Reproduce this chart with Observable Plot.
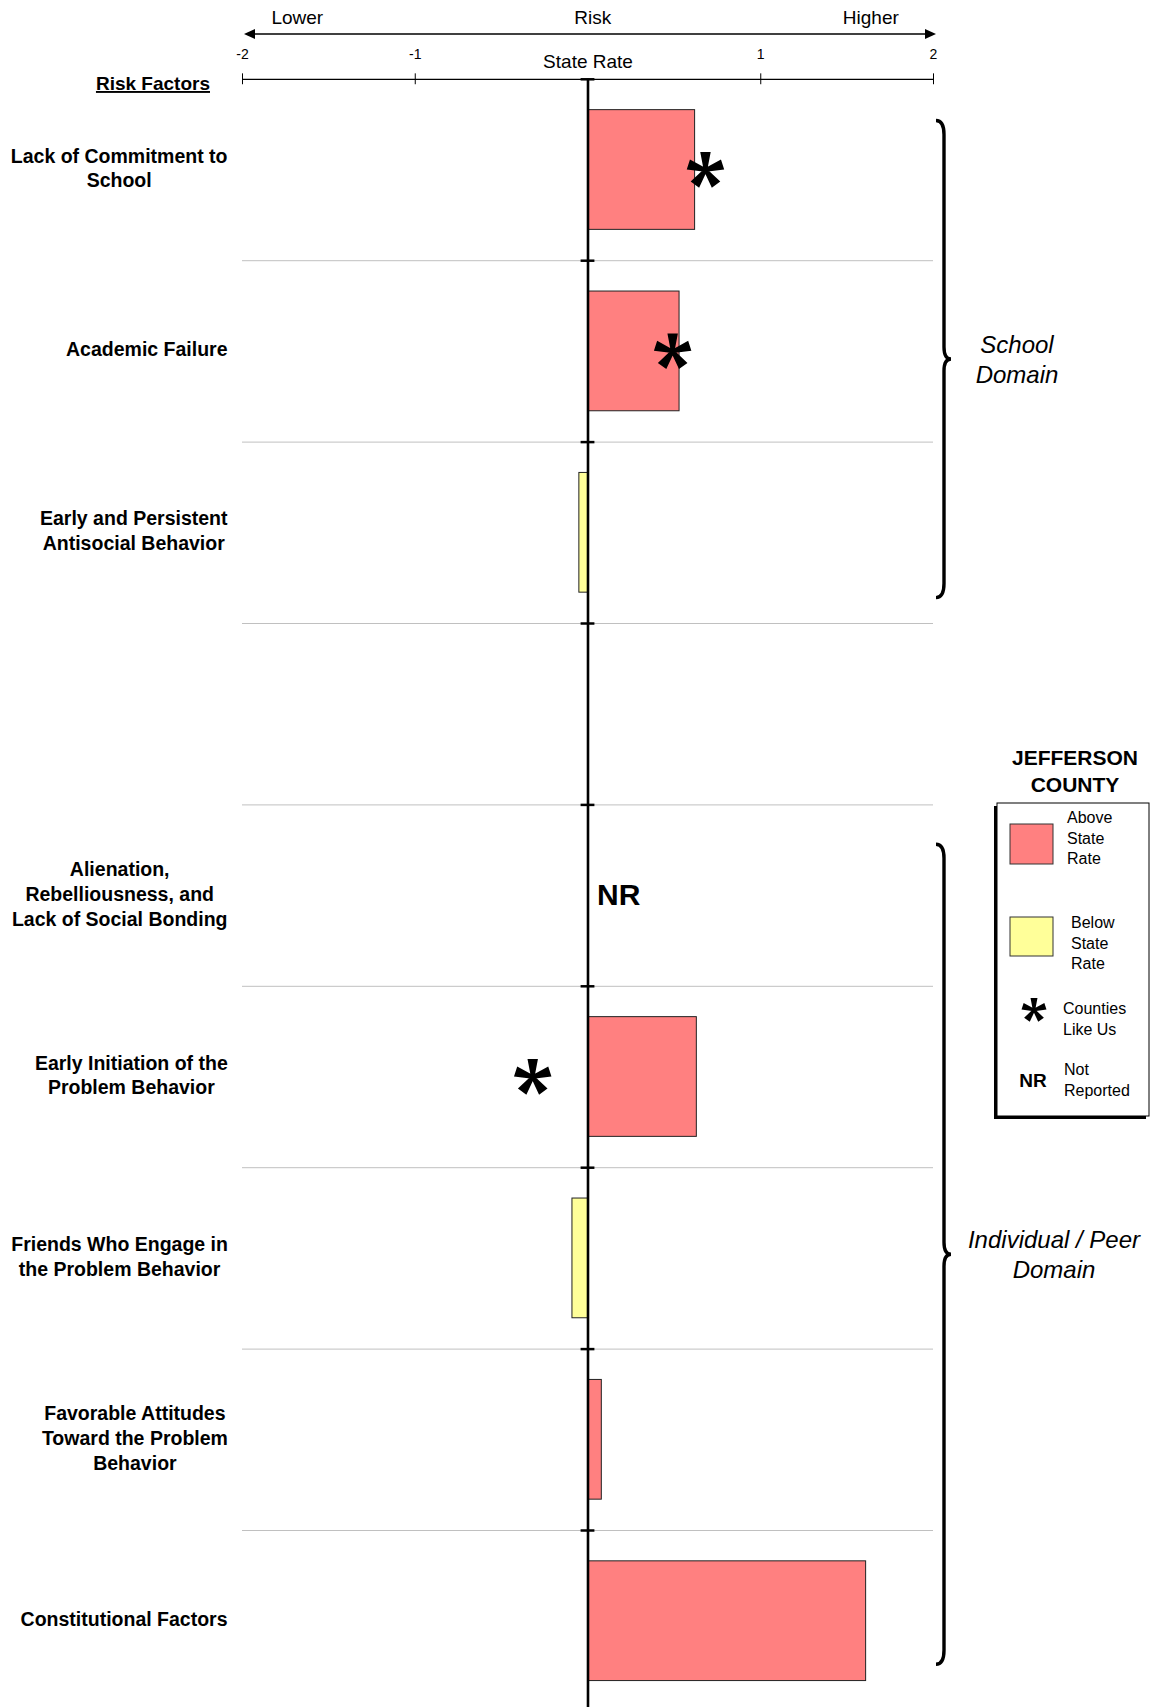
<!DOCTYPE html>
<html><head><meta charset="utf-8">
<script src="https://cdn.jsdelivr.net/npm/d3@7"></script>
<script src="https://cdn.jsdelivr.net/npm/@observablehq/plot@0.6"></script>
<style>
body{margin:0;background:#fff;}
#chart{position:relative;width:1153px;height:1707px;overflow:hidden;background:#fff;}
</style></head><body><div id="chart"></div>
<script>
// ---------- data ----------
const factors = [
  "Lack of Commitment to\nSchool",
  "Academic Failure",
  "Early and Persistent\nAntisocial Behavior",
  "",
  "Alienation,\nRebelliousness, and\nLack of Social Bonding",
  "Early Initiation of the\nProblem Behavior",
  "Friends Who Engage in\nthe Problem Behavior",
  "Favorable Attitudes\nToward the Problem\nBehavior",
  "Constitutional Factors"
];
const countyValues   = [0.62, 0.53, -0.05, null, null, 0.63, -0.09, 0.08, 1.61];
const countiesLikeUs = [0.68, 0.49, null, null, null, -0.32, null, null, null];
const notReported    = [false, false, false, false, true, false, false, false, false];
const xTicks = [-2, -1, 1, 2];
const xTickLabels = ["-2", "-1", "1", "2"];
const headerWords = ["Lower", "Risk", "Higher"];
const headerAt = [-1.68, 0.03, 1.64];
const domainNames = ["School\nDomain", "Individual / Peer\nDomain"];
const legendTitle = "JEFFERSON\nCOUNTY";
const legendItems = ["Above\nState\nRate", "Below\nState\nRate", "Counties\nLike Us", "Not\nReported"];

// ---------- layout ----------
const font = "'Liberation Sans', Arial, Helvetica, sans-serif";
const rowTop = 78.8, rowH = 181.4;
const braceLayout = [{from: 0.23, to: 2.86, labelX: 1017}, {from: 4.22, to: 8.74, labelX: 1054}];

const rows = factors.map((label, i) => ({i, label, value: countyValues[i], like: countiesLikeUs[i], nr: notReported[i]}));

// five-armed asterisk symbol
const asterisk = {
  draw(ctx, size) {
    const r = Math.sqrt(size / Math.PI), w0 = 0.1 * r, w1 = 0.29 * r;
    for (let k = 0; k < 5; k++) {
      const a = k * 2 * Math.PI / 5;
      const ux = Math.sin(a), uy = -Math.cos(a), px = Math.cos(a), py = Math.sin(a);
      ctx.moveTo(w0 * px, w0 * py);
      ctx.lineTo(r * ux + w1 * px, r * uy + w1 * py);
      ctx.lineTo(r * ux - w1 * px, r * uy - w1 * py);
      ctx.lineTo(-w0 * px, -w0 * py);
      ctx.closePath();
    }
  }
};

const chart = Plot.plot({
  width: 1153, height: 1707,
  marginLeft: 242, marginRight: 220, marginTop: 79, marginBottom: 0,
  style: {fontFamily: font, background: "white", color: "black"},
  x: {domain: [-2, 2]},
  y: {domain: [0, factors.length], range: [rowTop, rowTop + rowH * factors.length]},
  color: {domain: ["Above State Rate", "Below State Rate"], range: ["#FF8080", "#FFFF99"]},
  marks: [
    Plot.ruleY(d3.range(1, factors.length), {stroke: "#c0c0c0", strokeWidth: 1}),
    Plot.rect(rows.filter(d => d.value != null), {
      x1: 0, x2: "value", y1: d => d.i + 0.17, y2: d => d.i + 0.83,
      fill: d => d.value >= 0 ? "Above State Rate" : "Below State Rate",
      stroke: "#222", strokeWidth: 1
    }),
    Plot.ruleY([0], {stroke: "black", strokeWidth: 1.2}),
    Plot.ruleX(xTicks, {y1: -0.03, y2: 0.03, stroke: "black", strokeWidth: 1}),
    Plot.ruleX([0], {y1: 0, y2: factors.length, stroke: "black", strokeWidth: 2.6}),
    Plot.ruleY(d3.range(0, factors.length), {x1: -0.04, x2: 0.04, stroke: "black", strokeWidth: 2.5}),
    Plot.dot(rows.filter(d => d.like != null), {x: "like", y: d => d.i + 0.5, symbol: asterisk, r: 18, fill: "black", stroke: "none"}),
    Plot.text(rows.filter(d => d.nr), {x: 0, y: d => d.i + 0.5, text: () => "NR", textAnchor: "start", dx: 9, fontSize: 30, fontWeight: "bold", fill: "black"}),
    Plot.axisX(xTicks, {anchor: "top", tickSize: 0, tickPadding: 21, fontSize: 14, label: null,
      tickFormat: d => xTickLabels[xTicks.indexOf(d)]}),
    Plot.axisX([0], {anchor: "top", tickSize: 0, tickPadding: 12, fontSize: 19, tickFormat: () => "State Rate", label: null}),
    Plot.axisY(d3.range(factors.length).map(i => i + 0.5), {
      anchor: "left", tickSize: 0, tickPadding: 15, fontSize: 19.5, fontWeight: "bold", lineHeight: 1.28, dy: -3,
      tickFormat: d => factors[Math.floor(d)], label: null
    })
  ]
});

document.getElementById("chart").appendChild(chart);

// center multi-line y labels within their right-aligned block
chart.querySelectorAll('g[aria-label="y-axis tick label"] text').forEach(t => {
  const b1 = t.getBBox(); const right = b1.x + b1.width;
  t.setAttribute("text-anchor", "middle");
  const b2 = t.getBBox(); const shift = right - (b2.x + b2.width);
  const g = document.createElementNS("http://www.w3.org/2000/svg", "g");
  g.setAttribute("transform", `translate(${shift},0)`);
  t.parentNode.insertBefore(g, t); g.appendChild(t);
});

// ---------- decorations ----------
const xs = chart.scale("x"), ys = chart.scale("y");
const X = v => xs.apply(v), Y = v => ys.apply(v);
const svg = d3.select(chart);
const deco = svg.append("g").attr("font-family", font).attr("fill", "black");

function multiText(g, str, x, yFirst, lh, size, anchor, extra = {}) {
  const t = g.append("text").attr("x", x).attr("y", yFirst).attr("font-size", size).attr("text-anchor", anchor);
  Object.entries(extra).forEach(([k, v]) => t.attr(k, v));
  str.split("\n").forEach((s, i) => t.append("tspan").attr("x", x).attr("y", yFirst + i * lh).text(s));
  return t;
}

// header arrow
const ay = 34, xl = X(-2) + 2, xr = X(2) + 3;
deco.append("line").attr("x1", xl + 6).attr("x2", xr - 6).attr("y1", ay).attr("y2", ay).attr("stroke", "black").attr("stroke-width", 1.3);
deco.append("path").attr("d", `M${xl},${ay}L${xl + 11},${ay - 5}L${xl + 11},${ay + 5}Z`);
deco.append("path").attr("d", `M${xr},${ay}L${xr - 11},${ay - 5}L${xr - 11},${ay + 5}Z`);
headerWords.forEach((w, i) => deco.append("text").attr("x", X(headerAt[i])).attr("y", 24).attr("font-size", 19).attr("text-anchor", "middle").text(w));

// Risk Factors header
deco.append("text").attr("x", 210).attr("y", 90).attr("font-size", 19).attr("font-weight", "bold")
  .attr("text-anchor", "end").attr("text-decoration", "underline").text("Risk Factors");

// braces
braceLayout.forEach((b, k) => {
  const y0 = Y(b.from), y1 = Y(b.to), ym = (y0 + y1) / 2;
  const xe = X(2) + 3, xv = X(2) + 11, xt = X(2) + 18;
  deco.append("path").attr("fill", "none").attr("stroke", "black").attr("stroke-width", 3.4)
    .attr("d", `M${xe},${y0}Q${xv},${y0} ${xv},${y0 + 14}L${xv},${ym - 12}Q${xv},${ym} ${xt},${ym}Q${xv},${ym} ${xv},${ym + 12}L${xv},${y1 - 14}Q${xv},${y1} ${xe},${y1}`);
  multiText(deco, domainNames[k], b.labelX, ym - 15 + 8.5, 30, 24, "middle", {"font-style": "italic"});
});

// legend
const lg = deco.append("g");
multiText(lg, legendTitle, 1075, 764.5, 27, 21, "middle", {"font-weight": "bold"});
lg.append("rect").attr("x", 994).attr("y", 806).attr("width", 152).attr("height", 313).attr("fill", "black");
lg.append("rect").attr("x", 997).attr("y", 803).attr("width", 152).attr("height", 313).attr("fill", "white").attr("stroke", "black").attr("stroke-width", 1);
lg.append("rect").attr("x", 1010).attr("y", 824).attr("width", 43).attr("height", 40).attr("fill", "#FF8080").attr("stroke", "#333");
multiText(lg, legendItems[0], 1067, 823, 20.5, 16, "start");
lg.append("rect").attr("x", 1010).attr("y", 917).attr("width", 43).attr("height", 39).attr("fill", "#FFFF99").attr("stroke", "#333");
multiText(lg, legendItems[1], 1071, 928, 20.5, 16, "start");
lg.append("path").attr("transform", "translate(1034,1010)").attr("d", d3.symbol(asterisk, 12 * 12 * Math.PI)());
multiText(lg, legendItems[2], 1063, 1014, 21, 16, "start");
lg.append("text").attr("x", 1033).attr("y", 1087).attr("font-size", 19).attr("font-weight", "bold").attr("text-anchor", "middle").text("NR");
multiText(lg, legendItems[3], 1064, 1075, 21, 16, "start");
</script></body></html>
